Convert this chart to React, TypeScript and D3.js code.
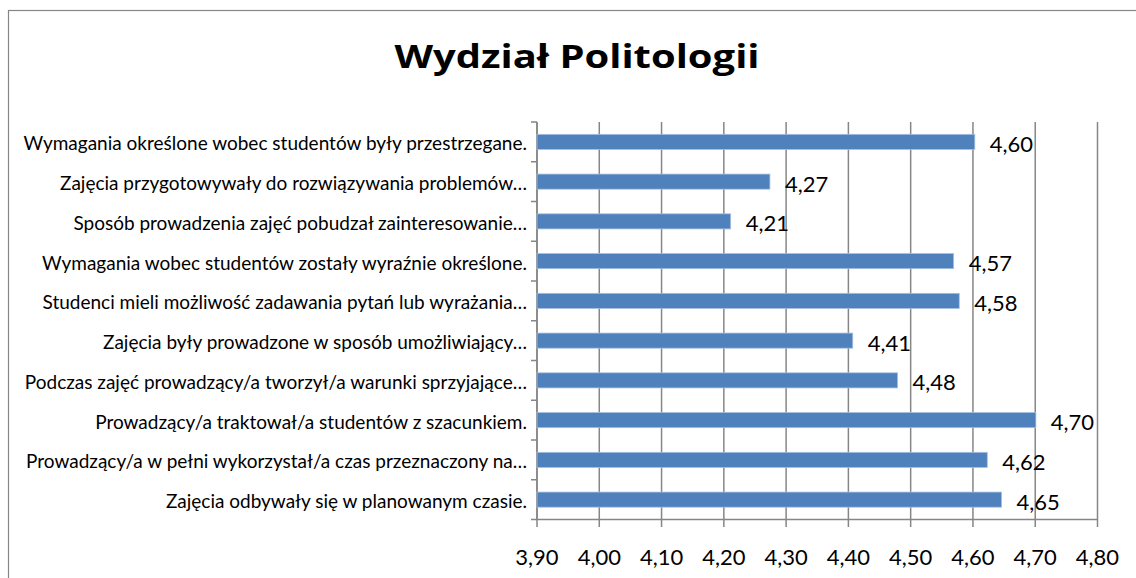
import React from "react";
import * as d3 from "d3";

const title = "Wydział Politologii";
const categories = [
  "Wymagania określone wobec studentów były przestrzegane.",
  "Zajęcia przygotowywały do rozwiązywania problemów…",
  "Sposób prowadzenia zajęć pobudzał zainteresowanie…",
  "Wymagania wobec studentów zostały wyraźnie określone.",
  "Studenci mieli możliwość zadawania pytań lub wyrażania…",
  "Zajęcia były prowadzone w sposób umożliwiający…",
  "Podczas zajęć prowadzący/a tworzył/a warunki sprzyjające…",
  "Prowadzący/a traktował/a studentów z szacunkiem.",
  "Prowadzący/a w pełni wykorzystał/a czas przeznaczony na…",
  "Zajęcia odbywały się w planowanym czasie.",
];
const values = [4.603, 4.274, 4.211, 4.569, 4.578, 4.407, 4.479, 4.701, 4.623, 4.646];
const xTicks = [3.9, 4.0, 4.1, 4.2, 4.3, 4.4, 4.5, 4.6, 4.7, 4.8];

const W = 1136;
const H = 578;
const FONT = "Lato, 'Open Sans', sans-serif";
const TITLE_FONT = "'Open Sans', Lato, sans-serif";

export default function App() {
  const top = 122;
  const bottom = 519.5;
  const x = d3.scaleLinear().domain([3.9, 4.8]).range([537, 1097.5]);
  const y = d3
    .scaleBand<string>()
    .domain(categories)
    .range([top, bottom])
    .paddingInner(0.62)
    .paddingOuter(0.31);
  const fmt = (v: number) => v.toFixed(2).replace(".", ",");
  const n = categories.length;
  const boundaries = d3.range(n + 1).map((i) => top + (i * (bottom - top)) / n);
  const grid = "#868686";

  return (
    <svg
      width={W}
      height={H}
      style={{ position: "absolute", left: 0, top: 0, background: "#fff" }}
    >
      <rect x={8.5} y={10.5} width={1200} height={700} fill="#fff" stroke="#868686" strokeWidth={1.2} />
      <text
        x={577}
        y={68}
        textAnchor="middle"
        fontFamily={TITLE_FONT}
        fontWeight="bold"
        fontSize={32}
        textLength={365}
        lengthAdjust="spacingAndGlyphs"
        fill="#000"
      >
        {title}
      </text>

      {xTicks.map((t) => (
        <g key={t}>
          <line x1={x(t)} x2={x(t)} y1={top} y2={527} stroke={grid} strokeWidth={1.5} />
          <text
            x={x(t)}
            y={556}
            textAnchor="middle"
            dominantBaseline="central"
            fontFamily={FONT}
            fontSize={22}
            fill="#000"
          >
            {fmt(t)}
          </text>
        </g>
      ))}

      <line x1={537} x2={1097.5} y1={bottom} y2={bottom} stroke={grid} strokeWidth={1.5} />
      <line x1={537} x2={537} y1={top} y2={bottom} stroke={grid} strokeWidth={1.5} />
      {boundaries.map((b, i) => (
        <line key={i} x1={531} x2={537} y1={b} y2={b} stroke={grid} strokeWidth={1.5} />
      ))}

      {categories.map((c, i) => {
        const yy = y(c)!;
        const bw = y.bandwidth();
        const cy = yy + bw / 2;
        return (
          <g key={c}>
            <rect
              x={x(3.9)}
              y={yy}
              width={x(values[i]) - x(3.9)}
              height={bw}
              fill="#4F81BD"
              stroke="#A7C0DE"
              strokeWidth={0.8}
            />
            <text
              x={527}
              y={cy + 1}
              textAnchor="end"
              dominantBaseline="central"
              fontFamily={FONT}
              fontSize={19}
              fill="#000"
            >
              {c}
            </text>
            <text
              x={x(values[i]) + 15}
              y={cy + 1.5}
              dominantBaseline="central"
              fontFamily={FONT}
              fontSize={22}
              fill="#000"
            >
              {fmt(values[i])}
            </text>
          </g>
        );
      })}
    </svg>
  );
}
